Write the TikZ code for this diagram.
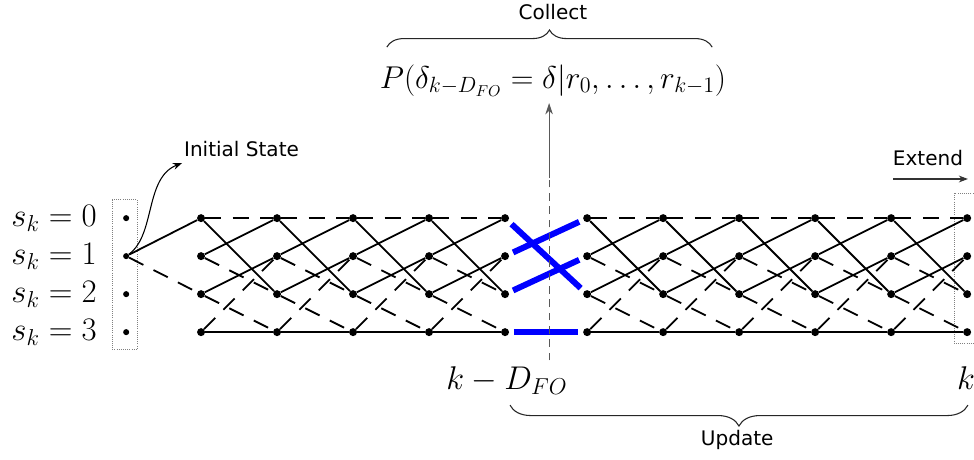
\RequirePackage{fix-cm}
\documentclass[tikz,border=0pt]{standalone}
\usepackage{amsmath,amssymb}
\usepackage{fontspec}
\newfontfamily\labelfont{DejaVu Sans}
\usetikzlibrary{arrows.meta,calc,positioning,decorations.pathreplacing}

\begin{document}
\begin{tikzpicture}[
  dot/.style={circle,fill,inner sep=0pt,minimum size=0.21cm},
  sdot/.style={circle,fill,inner sep=0pt,minimum size=0.16cm},
  brs/.style={line width=1.35pt},
  brd/.style={line width=1.35pt,dash pattern=on 0.42cm off 0.3cm},
  surv/.style={blue,line width=4.5pt,shorten <=0.12cm,shorten >=0.12cm},
  lab/.style={font=\labelfont\fontsize{15}{18}\selectfont},
  eq/.style={font=\fontsize{24.6}{29}\selectfont,inner sep=0pt},
  frame/.style={draw=gray,densely dotted,line width=0.6pt},
  brc/.style={decorate,line width=0.8pt,black!85}]
\useasboundingbox (0,0) rectangle (25.63,12.08);

% states and initial state
\foreach \s in {0,...,3} {
  \node[eq,anchor=east] (slab\s) at (2.55,6.34-\s) {$s_k=\s$};
  \node[sdot] (I\s) at (3.32,6.34-\s) {};
}
\draw[frame] ($(I0)+(-0.37,0.48)$) rectangle ($(I3)+(0.29,-0.45)$);

% trellis columns
\foreach \i in {0,...,4}
  \foreach \s in {0,...,3}
    \node[dot] (L\i-\s) at (5.29+2*\i,6.34-\s) {};
\foreach \i in {0,...,5}
  \foreach \s in {0,...,3}
    \node[dot] (R\i-\s) at (15.45+2*\i,6.34-\s) {};
\draw[frame] ($(R5-0)+(-0.34,0.66)$) rectangle ($(R5-3)+(0.6,-0.29)$);

% branches
\draw[brs] (I1) -- (L0-0);
\draw[brd] (I1) -- (L0-2);
\foreach \i in {0,...,3} {
  \pgfmathtruncatemacro\j{\i+1}
  \foreach \a/\b/\t in {0/0/brd,0/2/brs,1/0/brs,1/2/brd,2/1/brs,2/3/brd,3/1/brd,3/3/brs}
    \draw[\t] (L\i-\a) -- (L\j-\b);
}
\foreach \i in {0,...,4} {
  \pgfmathtruncatemacro\j{\i+1}
  \foreach \a/\b/\t in {0/0/brd,0/2/brs,1/0/brs,1/2/brd,2/1/brs,2/3/brd,3/1/brd,3/3/brs}
    \draw[\t] (R\i-\a) -- (R\j-\b);
}
% survivors
\foreach \a/\b in {0/2,1/0,2/1,3/3}
  \draw[surv] (L4-\a) -- (R0-\b);

% decision line
\coordinate (vbot) at (14.45,2.6);
\coordinate (vmid) at (14.45,7.39);
\coordinate (vtop) at (14.45,9.37);
\draw[gray!70!black,line width=0.9pt,dash pattern=on 0.2cm off 0.15cm] (vbot) -- (vmid);
\draw[gray!70!black,line width=0.9pt,-{Stealth[length=0.3cm,width=0.2cm]}] (vmid) -- (vtop);

\node[eq,font=\fontsize{23.6}{28}\selectfont,anchor=base] (prob) at (14.55,9.76) {$P(\delta_{k-D_{FO}}=\delta|r_0,\ldots,r_{k-1})$};
\node[lab] (collect) at (14.55,11.76) {Collect};
\coordinate (cl) at (10.18,10.84);
\coordinate (cr) at (18.74,10.84);
\draw[brc,decoration={brace,amplitude=0.45cm}] (cl) -- (cr);

\node[eq,anchor=base] (kd) at (13.34,1.84) {$k-D_{FO}$};
\node[eq,anchor=base] (kk) at (25.42,1.84) {$k$};
\coordinate (ul) at (13.42,1.42);
\coordinate (ur) at (25.47,1.42);
\draw[brc,decoration={brace,amplitude=0.55cm}] (ur) -- (ul);
\node[lab] (update) at (19.4,0.5) {Update};

% annotations
\node[lab,anchor=west] (init) at (4.72,8.16) {Initial State};
\coordinate (inittip) at (4.79,7.79);
\draw[line width=0.8pt,-{Stealth[length=0.24cm]}] (I1) .. controls (4.1,5.9) and (3.8,7.4) .. (inittip);
\node[lab] (extend) at (24.42,7.92) {Extend};
\coordinate (ex1) at (23.5,7.37);
\coordinate (ex2) at (25.47,7.37);
\draw[black!80,line width=0.8pt,-{Stealth[length=0.24cm]}] (ex1) -- (ex2);
\end{tikzpicture}
\end{document}
